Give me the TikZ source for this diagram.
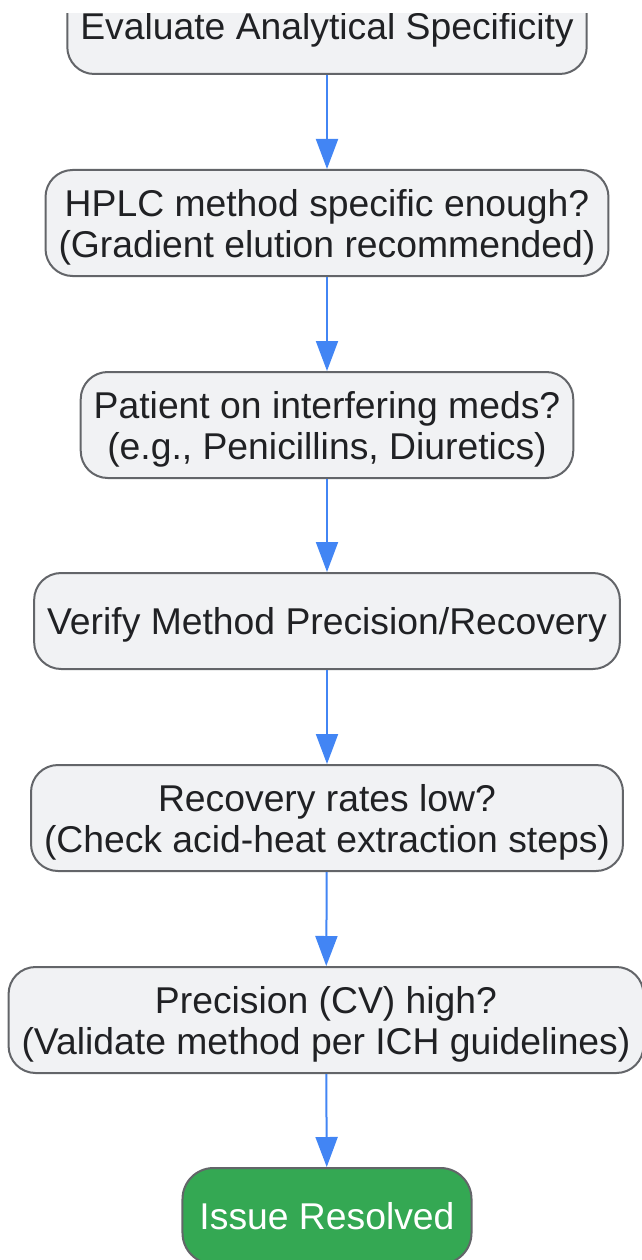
\documentclass[tikz,border=0pt]{standalone}
\usepackage{fontspec}
\setmainfont{Liberation Sans}
\usetikzlibrary{arrows.meta}

\definecolor{boxfill}{HTML}{F1F2F4}
\definecolor{boxline}{HTML}{636569}
\definecolor{flowblue}{HTML}{4285F4}
\definecolor{donegreen}{HTML}{34A853}
\definecolor{inkgray}{HTML}{202124}

\tikzset{
    stepbox/.style={draw=boxline, fill=boxfill, line width=2pt, rounded corners=27pt,
        text=inkgray, align=center, inner xsep=13pt, inner ysep=0pt, text depth=0pt,
        font=\fontsize{37.3}{41}\selectfont},
    onebox/.style={stepbox, minimum height=96pt},
    twobox/.style={stepbox, minimum height=106pt},
    donebox/.style={onebox, fill=donegreen, text=white, rounded corners=31pt, inner xsep=17pt},
    flow/.style={draw=flowblue, line width=2pt, -{Triangle[length=30pt,width=22pt,fill=flowblue]}}
}

\begin{document}
\begin{tikzpicture}[x=1pt,y=-1pt]
    \useasboundingbox (0,0) rectangle (642,1260);
    \begin{scope}
    \clip (0,14) rectangle (642,1262);
    \node[onebox] at (327, 26)(eval) {Evaluate Analytical Specificity};
    \node[twobox] at (327, 223)(hplc) {HPLC method specific enough?\\(Gradient elution recommended)};
    \node[twobox] at (327, 425)(meds) {Patient on interfering meds?\\(e.g., Penicillins, Diuretics)};
    \node[onebox] at (327, 621)(verify) {Verify Method Precision/Recovery};
    \node[twobox] at (327, 818)(recov) {Recovery rates low?\\(Check acid-heat extraction steps)};
    \node[twobox] at (326, 1020)(cv) {Precision (CV) high?\\(Validate method per ICH guidelines)};
    \node[donebox] at (327, 1216)(done) {Issue Resolved};
    \end{scope}

    \draw[flow] (eval) -- (hplc);
    \draw[flow] (hplc) -- (meds);
    \draw[flow] (meds) -- (verify);
    \draw[flow] (verify) -- (recov);
    \draw[flow] (recov) -- (cv);
    \draw[flow] (cv) -- (done);

\end{tikzpicture}
\end{document}
